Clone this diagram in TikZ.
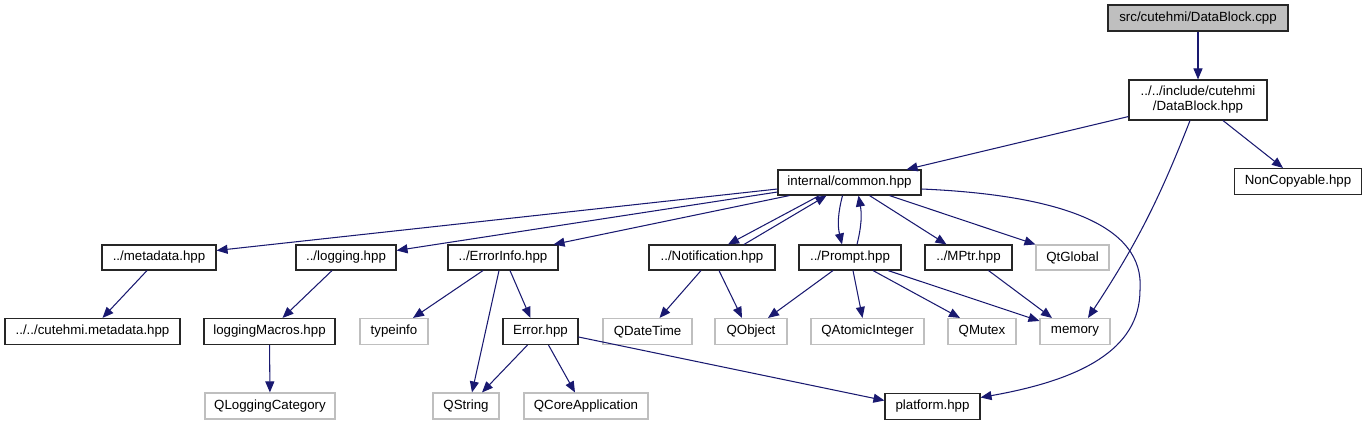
\documentclass[tikz,border=0pt]{standalone}
\usepackage{fontspec}
\setmainfont{Liberation Sans}
\usetikzlibrary{arrows.meta}
\definecolor{edgec}{HTML}{191970}
\definecolor{greyb}{HTML}{BFBFBF}
\begin{document}
\begin{tikzpicture}[x=1pt,y=-1pt,
  base/.style={rectangle, fill=white, minimum height=25, inner sep=0pt, line width=1.1pt,
    font=\fontsize{13.3}{15}\selectfont},
  nb/.style={base, draw=black!85},
  ng/.style={base, draw=greyb},
  root/.style={base, draw=black!85, fill=greyb},
  dep/.style={draw=edgec, line width=1.05pt, -{Triangle[length=11,width=9]}},
]
\useasboundingbox (0,0) rectangle (1368,425);
% nodes
\node[root, minimum width=180, minimum height=26] (cpp) at (1198,18) {src/cutehmi/DataBlock.cpp};
\node[nb, minimum width=138, minimum height=40, align=center] (dbh) at (1198,100) {../../include/cutehmi\\/DataBlock.hpp};
\node[nb, minimum width=127, minimum height=26] (nc) at (1298,181.5) {NonCopyable.hpp};
\node[nb, minimum width=143] (common) at (849.5,182.5) {internal/common.hpp};
\node[nb, minimum width=114] (meta) at (159,257.5) {../metadata.hpp};
\node[nb, minimum width=100] (logg) at (346,257.5) {../logging.hpp};
\node[nb, minimum width=110] (ei) at (503,257.5) {../ErrorInfo.hpp};
\node[nb, minimum width=126] (notif) at (712,257.5) {../Notification.hpp};
\node[nb, minimum width=102] (prompt) at (850,257.5) {../Prompt.hpp};
\node[nb, minimum width=87] (mptr) at (968.5,257.5) {../MPtr.hpp};
\node[ng, minimum width=73] (qtg) at (1072.5,257.5) {QtGlobal};
\node[nb, minimum width=175, minimum height=26] (cmeta) at (92.5,331.5) {../../cutehmi.metadata.hpp};
\node[nb, minimum width=131, minimum height=26] (lmac) at (269.5,331.5) {loggingMacros.hpp};
\node[ng, minimum width=68, minimum height=26] (typeinfo) at (394,331.5) {typeinfo};
\node[nb, minimum width=75, minimum height=26] (error) at (540.5,331.5) {Error.hpp};
\node[ng, minimum width=89, minimum height=26] (qdt) at (647.5,331.5) {QDateTime};
\node[ng, minimum width=72, minimum height=26] (qobj) at (751,331.5) {QObject};
\node[ng, minimum width=113, minimum height=26] (qai) at (867.5,331.5) {QAtomicInteger};
\node[ng, minimum width=68, minimum height=26] (qmutex) at (982,331.5) {QMutex};
\node[ng, minimum width=70, minimum height=26] (memory) at (1075,331.5) {memory};
\node[ng, minimum width=130, minimum height=26] (qlc) at (270,406) {QLoggingCategory};
\node[ng, minimum width=66, minimum height=26] (qstring) at (466,406) {QString};
\node[ng, minimum width=124, minimum height=26] (qca) at (586,406) {QCoreApplication};
\node[nb, minimum width=95, minimum height=26] (platform) at (932.5,406.5) {platform.hpp};
% edges
\draw[dep] (cpp) -- (dbh);
\draw[dep] ([yshift=4]dbh.south west) -- ([xshift=-15]common.north east);
\draw[dep] ([xshift=-8]dbh.south) to[bend left=6] ([xshift=13]memory.north);
\draw[dep] ([xshift=25]dbh.south) -- ([xshift=-15]nc.north);
\draw[dep] ([yshift=-6.5]common.west) -- ([yshift=7]meta.east);
\draw[dep] ([yshift=-9.5]common.west) -- ([yshift=7]logg.east);
\draw[dep] ([xshift=-60]common.south) -- ([xshift=-5]ei.north east);
\draw[dep] ([xshift=-30]common.south) -- ([xshift=16]notif.north);
\draw[dep] ([xshift=32]notif.north) -- ([xshift=-23]common.south);
\draw[dep] ([xshift=-7]common.south) to[bend right=14] ([xshift=-8]prompt.north);
\draw[dep] ([xshift=7]prompt.north) to[bend right=12] ([xshift=9]common.south);
\draw[dep] ([xshift=20]common.south) -- ([xshift=-22]mptr.north);
\draw[dep] ([xshift=40]common.south) -- (qtg.north west);
\draw[dep] ([yshift=-6.5]common.east) .. controls (1060,195) and (1145,225) .. (1140,290)
  .. controls (1140,350) and (1080,380) .. ([yshift=9]platform.east);
\draw[dep] ([xshift=-12]meta.south) -- ([xshift=10]cmeta.north);
\draw[dep] ([xshift=-14]logg.south) -- ([xshift=13]lmac.north);
\draw[dep] (lmac) -- (qlc);
\draw[dep] ([xshift=-20]ei.south) -- ([xshift=19]typeinfo.north);
\draw[dep] ([xshift=-4]ei.south) -- ([xshift=6]qstring.north);
\draw[dep] ([xshift=7]ei.south) -- ([xshift=-10]error.north);
\draw[dep] ([xshift=-13]error.south) -- ([xshift=16]qstring.north);
\draw[dep] ([xshift=8]error.south) -- ([xshift=-11]qca.north);
\draw[dep] ([yshift=-5.5]error.east) -- ([yshift=6]platform.west);
\draw[dep] ([xshift=-11]notif.south) -- ([xshift=12]qdt.north);
\draw[dep] ([xshift=7]notif.south) -- ([xshift=-9]qobj.north);
\draw[dep] ([xshift=-17]prompt.south) -- ([xshift=17]qobj.north);
\draw[dep] ([xshift=3]prompt.south) -- ([xshift=-5]qai.north);
\draw[dep] ([xshift=23]prompt.south) -- ([xshift=-22]qmutex.north);
\draw[dep] ([xshift=38]prompt.south) -- ([yshift=-3]memory.north west);
\draw[dep] ([xshift=20]mptr.south) -- ([xshift=-23]memory.north);
\end{tikzpicture}
\end{document}
